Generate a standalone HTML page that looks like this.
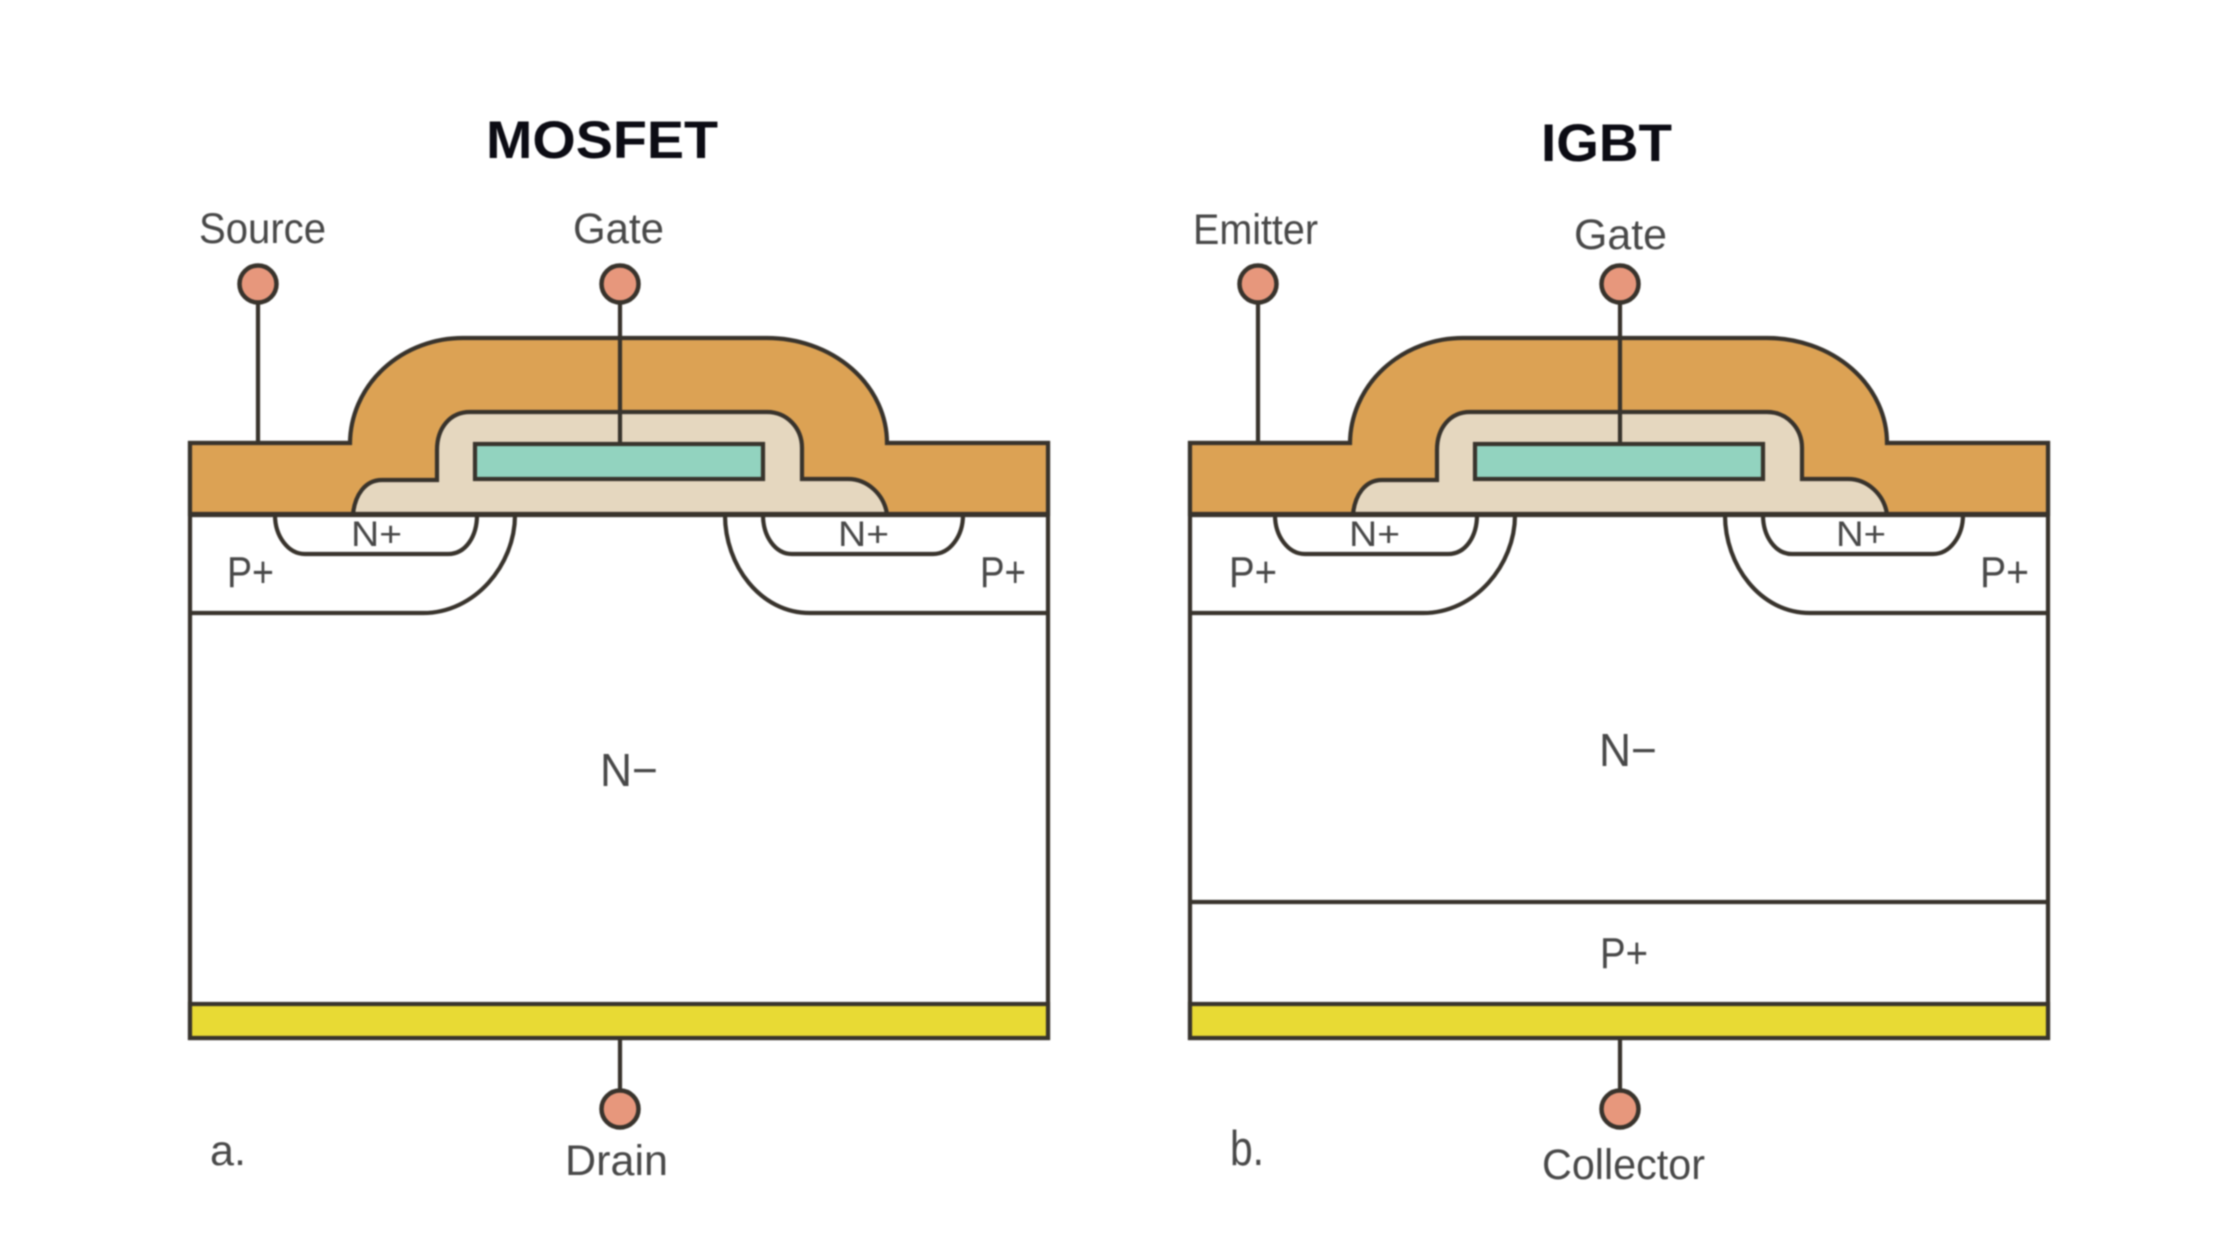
<!DOCTYPE html>
<html><head><meta charset="utf-8"><style>
html,body{margin:0;padding:0;background:#fff;width:2240px;height:1260px;overflow:hidden}
svg{display:block;filter:blur(.8px)}
text{font-family:"Liberation Sans",sans-serif;fill:#484848}
.t{font-weight:bold;fill:#0c0c14}
</style></head><body>
<svg xmlns="http://www.w3.org/2000/svg" width="2240" height="1260" viewBox="0 0 2240 1260">
<defs>
<g id="dev" stroke="#38332c" stroke-width="4.2" fill="none">
  <rect x="190" y="443" width="858" height="595" fill="#fff"/>
  <path d="M190 514V443H350A113 106 0 0 1 463 338H767A120 105 0 0 1 887 443H1048V514Z" fill="#dca254"/>
  <path d="M353 514C355 495 365 480 382 480H437V450C437 428 450 412 470 412H767C787 412 802 428 802 448V479H848C868 479 884 495 887 514Z" fill="#e5d7bf"/>
  <rect x="475" y="444" width="288" height="35" fill="#92d3bf"/>
  <path d="M190 515H1048"/>
  <path d="M190 613H423C475 613 515 565 515 515"/>
  <path d="M275 515C275 536 288 554 305 554H448C466 554 477 536 477 515"/>
  <path d="M725 515C725 565 760 613 810 613H1048"/>
  <path d="M763 515C763 536 775 554 792 554H933C950 554 963 536 963 515"/>
  <rect x="190" y="1004" width="858" height="34" fill="#e8da34"/>
  <path d="M258 303V443M620 303V444M620 1038V1090"/>
  <g fill="#e7977c" stroke-width="4.5">
    <circle cx="258" cy="284" r="18.5"/>
    <circle cx="620" cy="284" r="18.5"/>
    <circle cx="620" cy="1109" r="18.5"/>
  </g>
</g>
</defs>
<rect width="2240" height="1260" fill="#fff"/>
<use href="#dev"/>
<use href="#dev" x="1000"/>
<path d="M1190 902H2048" stroke="#38332c" stroke-width="4.2"/>

<text class="t" x="486" y="158" font-size="53" textLength="232" lengthAdjust="spacingAndGlyphs">MOSFET</text>
<text class="t" x="1541" y="161" font-size="53" textLength="131" lengthAdjust="spacingAndGlyphs">IGBT</text>

<text x="199" y="243" font-size="43" textLength="127" lengthAdjust="spacingAndGlyphs">Source</text>
<text x="573" y="243" font-size="43" textLength="91" lengthAdjust="spacingAndGlyphs">Gate</text>
<text x="565" y="1175" font-size="43" textLength="103" lengthAdjust="spacingAndGlyphs">Drain</text>
<text x="210" y="1165" font-size="43" textLength="36" lengthAdjust="spacingAndGlyphs">a.</text>
<text x="227" y="587" font-size="44" textLength="47" lengthAdjust="spacingAndGlyphs">P+</text>
<text x="980" y="587" font-size="44" textLength="46" lengthAdjust="spacingAndGlyphs">P+</text>
<text x="351" y="546" font-size="35" textLength="51" lengthAdjust="spacingAndGlyphs">N+</text>
<text x="838" y="546" font-size="35" textLength="51" lengthAdjust="spacingAndGlyphs">N+</text>
<text x="600" y="786" font-size="46" textLength="58" lengthAdjust="spacingAndGlyphs">N−</text>

<text x="1193" y="244" font-size="43" textLength="125" lengthAdjust="spacingAndGlyphs">Emitter</text>
<text x="1574" y="249" font-size="43" textLength="93" lengthAdjust="spacingAndGlyphs">Gate</text>
<text x="1542" y="1179" font-size="43" textLength="163" lengthAdjust="spacingAndGlyphs">Collector</text>
<text x="1230" y="1165" font-size="49" textLength="34" lengthAdjust="spacingAndGlyphs">b.</text>
<text x="1229" y="587" font-size="44" textLength="48" lengthAdjust="spacingAndGlyphs">P+</text>
<text x="1980" y="587" font-size="44" textLength="49" lengthAdjust="spacingAndGlyphs">P+</text>
<text x="1349" y="546" font-size="35" textLength="51" lengthAdjust="spacingAndGlyphs">N+</text>
<text x="1836" y="546" font-size="35" textLength="50" lengthAdjust="spacingAndGlyphs">N+</text>
<text x="1599" y="766" font-size="46" textLength="58" lengthAdjust="spacingAndGlyphs">N−</text>
<text x="1600" y="968" font-size="44" textLength="48" lengthAdjust="spacingAndGlyphs">P+</text>
</svg>
</body></html>
